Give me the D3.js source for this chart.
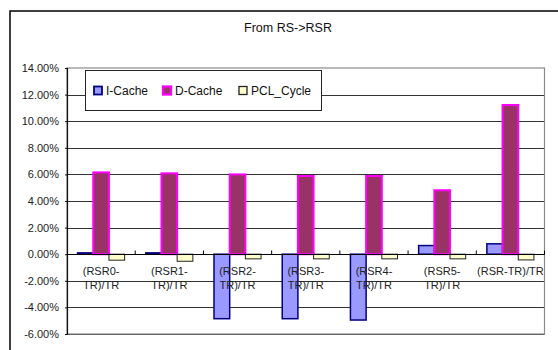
<!DOCTYPE html>
<html><head><meta charset="utf-8">
<script src="https://cdn.jsdelivr.net/npm/d3@7/dist/d3.min.js"></script>
<style>html,body{margin:0;padding:0;background:#fff;overflow:hidden}svg{display:block;font-family:"Liberation Sans",Arial,sans-serif}</style>
</head><body>
<svg id="c" width="558" height="350"></svg>
<script>
const title = "From RS->RSR";
const categories = ["(RSR0-TR)/TR","(RSR1-TR)/TR","(RSR2-TR)/TR","(RSR3-TR)/TR","(RSR4-TR)/TR","(RSR5-TR)/TR","(RSR-TR)/TR"];
const seriesNames = ["I-Cache","D-Cache","PCL_Cycle"];
const iCache = [0.001, 0.001, -0.0485, -0.0485, -0.0495, 0.0065, 0.0078];
const dCache = [0.0615, 0.0608, 0.0600, 0.0588, 0.0588, 0.0481, 0.1122];
const pclCycle = [-0.0045, -0.0053, -0.0035, -0.0035, -0.0035, -0.0035, -0.0043];
const yTicks = [-0.06,-0.04,-0.02,0,0.02,0.04,0.06,0.08,0.10,0.12,0.14];

const fills = {"I-Cache":"#9999FF","D-Cache":"#993366","PCL_Cycle":"#FFFFCC"};
const strokes = {"I-Cache":"#000080","D-Cache":"#FF00FF","PCL_Cycle":"#222"};
const strokeW = {"I-Cache":1.5,"D-Cache":2,"PCL_Cycle":1};
const values = {"I-Cache":iCache,"D-Cache":dCache,"PCL_Cycle":pclCycle};

const svg = d3.select("#c");
const L = 67, R = 544.5, T = 68, B = 334;
const fmt = d3.formatLocale({decimal:".",thousands:",",grouping:[3],currency:["$",""],minus:"-"}).format(".2%");

// outer frame
svg.append("rect").attr("x",10).attr("y",11).attr("width",600).attr("height",400)
  .attr("fill","#fff").attr("stroke","#000").attr("stroke-width",1.5);

svg.append("text").attr("x",288).attr("y",31.5).attr("text-anchor","middle")
  .attr("font-size",12.5).attr("fill","#111").text(title);

const y = d3.scaleLinear().domain([-0.06,0.14]).range([B,T]);
const x0 = d3.scaleBand().domain(categories).range([L,R]).padding(0);
const bw = x0.bandwidth();
const x1 = d3.scaleBand().domain(seriesNames).range([bw*0.155, bw*0.845]).padding(0);

// gridlines
svg.append("g").selectAll("line").data(yTicks.filter(t=>t!==0 && t!==0.14)).join("line")
  .attr("x1",L).attr("x2",R).attr("y1",d=>Math.round(y(d))+0.5).attr("y2",d=>Math.round(y(d))+0.5)
  .attr("stroke","#333").attr("stroke-width",1);

// plot border
svg.append("rect").attr("x",L).attr("y",T).attr("width",R-L).attr("height",B-T)
  .attr("fill","none").attr("stroke","#8a8a8a").attr("stroke-width",1.2);

// y axis
const yAxis = d3.axisLeft(y).tickValues(yTicks).tickFormat(fmt).tickSize(2).tickPadding(6);
const gy = svg.append("g").attr("transform",`translate(${L},0)`).call(yAxis);
gy.select(".domain").attr("stroke","#111").attr("stroke-width",1.2);
gy.selectAll(".tick line").attr("stroke","#111");
gy.selectAll(".tick text").attr("font-size",11).attr("fill","#222")
  .attr("font-family","Liberation Sans, Arial, sans-serif");

// bars
const g = svg.append("g");
seriesNames.forEach(s=>{
  g.append("g").selectAll("rect").data(categories).join("rect")
    .attr("x",(c)=>x0(c)+x1(s))
    .attr("width",x1.bandwidth())
    .attr("y",(c,i)=>y(Math.max(0,values[s][i])))
    .attr("height",(c,i)=>Math.abs(y(values[s][i])-y(0)))
    .attr("fill",fills[s]).attr("stroke",strokes[s]).attr("stroke-width",strokeW[s]);
});

// zero axis with ticks
const y0 = Math.round(y(0))+0.5;
svg.append("line").attr("x1",L).attr("x2",R).attr("y1",y0).attr("y2",y0)
  .attr("stroke","#000").attr("stroke-width",1.2);
const bounds = categories.map(c=>x0(c)).concat([R]);
svg.append("g").selectAll("line").data(bounds.slice(1)).join("line")
  .attr("x1",d=>d).attr("x2",d=>d).attr("y1",y0).attr("y2",y0-4)
  .attr("stroke","#000").attr("stroke-width",1);

// category labels
const lab = svg.append("g").attr("font-size",11).attr("fill","#222");
categories.forEach(c=>{
  const cx = x0(c)+bw/2;
  const t = lab.append("text").attr("x",cx).attr("y",275).attr("text-anchor","middle").text(c);
  if (t.node().getComputedTextLength() > bw) {
    const k = c.indexOf("-")+1;
    t.text(null);
    t.append("tspan").attr("x",cx).attr("y",275).text(c.slice(0,k));
    t.append("tspan").attr("x",cx).attr("y",289).text(c.slice(k));
  }
});

// legend
const lg = svg.append("g");
lg.append("rect").attr("x",85.5).attr("y",70.5).attr("width",236).attr("height",40)
  .attr("fill","#fff").attr("stroke","#222").attr("stroke-width",1);
const lx = [94,163,239];
seriesNames.forEach((s,i)=>{
  lg.append("rect").attr("x",lx[i]).attr("y",86.5).attr("width",8).attr("height",8)
    .attr("fill",fills[s]).attr("stroke",strokes[s]).attr("stroke-width",strokeW[s]+0.3);
  lg.append("text").attr("x",lx[i]+12).attr("y",95).attr("font-size",12).attr("fill","#111").text(s);
});
</script>
</body></html>
